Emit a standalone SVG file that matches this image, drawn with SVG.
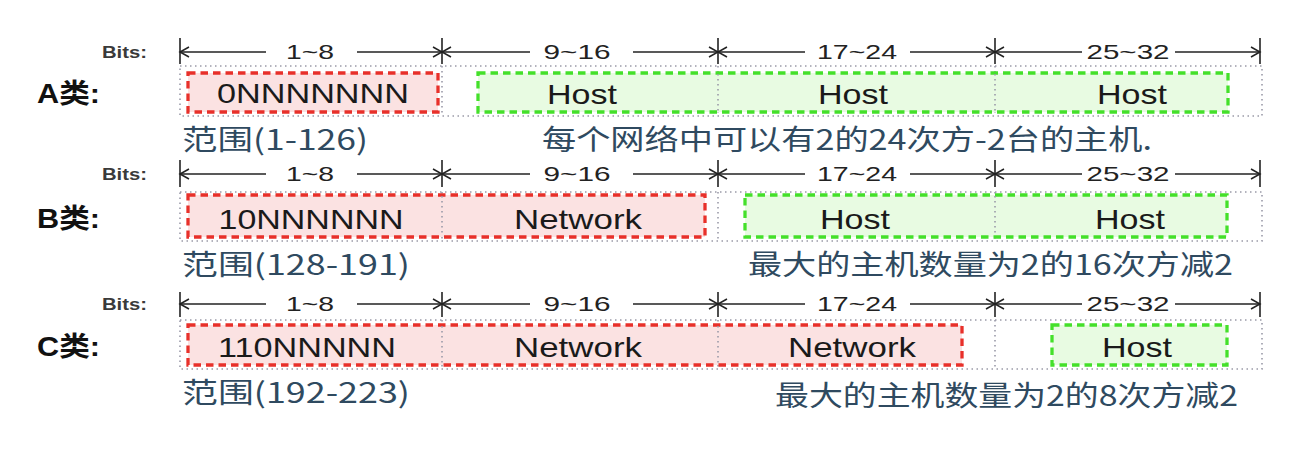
<svg xmlns="http://www.w3.org/2000/svg" width="1302" height="450" viewBox="0 0 1302 450">
<style>
.bits{font-family:"Liberation Sans","DejaVu Sans",sans-serif;font-size:16px;font-weight:bold;fill:#3a3a3a}
.cls{font-family:"Liberation Sans","Noto Sans CJK SC",sans-serif;font-size:27px;font-weight:bold;fill:#111}
.rng{font-family:"Liberation Sans","Noto Sans CJK SC",sans-serif;font-size:21px;fill:#222;text-anchor:middle}
.fld{font-family:"Liberation Sans","Noto Sans CJK SC",sans-serif;font-size:28px;fill:#1a1a1a;text-anchor:middle}
.cap{font-family:"Noto Sans CJK SC",sans-serif;font-size:28px;fill:#2f4a60}
.tick{stroke:#222;stroke-width:1.6}
.dl{stroke:#222;stroke-width:1.5}
.dl.s{marker-start:url(#ah)}
.dl.e{marker-end:url(#ah)}
.frame{fill:none;stroke:#9a9aa8;stroke-width:1.6;stroke-dasharray:1.5 3.5}
.sep{stroke:#9a9aa8;stroke-width:1.6;stroke-dasharray:1.5 3.5}
.net{fill:#fbe2e2;stroke:#e8302a;stroke-width:3.3;stroke-dasharray:7.5 5}
.host{fill:#e8fbe2;stroke:#44e02a;stroke-width:3.3;stroke-dasharray:7.5 5}
</style>
<defs>
<marker id="ah" viewBox="-10 -7 12 14" markerWidth="12" markerHeight="14" refX="0" refY="0" orient="auto-start-reverse" markerUnits="userSpaceOnUse">
<path d="M-9,-5 L0,0 L-9,5" fill="none" stroke="#222" stroke-width="1.5"/>
</marker>
</defs>
<rect width="1302" height="450" fill="#ffffff"/>

<g id="connectors">
<g id="dimA">
<line class="tick" x1="180" y1="38" x2="180" y2="64"/>
<line class="tick" x1="442" y1="38" x2="442" y2="64"/>
<line class="tick" x1="718" y1="38" x2="718" y2="64"/>
<line class="tick" x1="995" y1="38" x2="995" y2="64"/>
<line class="tick" x1="1260" y1="38" x2="1260" y2="64"/>
<line class="dl s" x1="180" y1="52" x2="266" y2="52"/>
<line class="dl e" x1="357" y1="52" x2="442" y2="52"/>
<line class="dl s" x1="442" y1="52" x2="530" y2="52"/>
<line class="dl e" x1="633" y1="52" x2="718" y2="52"/>
<line class="dl s" x1="718" y1="52" x2="805" y2="52"/>
<line class="dl e" x1="910" y1="52" x2="995" y2="52"/>
<line class="dl s" x1="995" y1="52" x2="1082" y2="52"/>
<line class="dl e" x1="1175" y1="52" x2="1260" y2="52"/>
</g>
<g id="dimB">
<line class="tick" x1="180" y1="160" x2="180" y2="187"/>
<line class="tick" x1="442" y1="160" x2="442" y2="187"/>
<line class="tick" x1="718" y1="160" x2="718" y2="187"/>
<line class="tick" x1="995" y1="160" x2="995" y2="187"/>
<line class="tick" x1="1260" y1="160" x2="1260" y2="187"/>
<line class="dl s" x1="180" y1="174" x2="266" y2="174"/>
<line class="dl e" x1="357" y1="174" x2="442" y2="174"/>
<line class="dl s" x1="442" y1="174" x2="530" y2="174"/>
<line class="dl e" x1="633" y1="174" x2="718" y2="174"/>
<line class="dl s" x1="718" y1="174" x2="805" y2="174"/>
<line class="dl e" x1="910" y1="174" x2="995" y2="174"/>
<line class="dl s" x1="995" y1="174" x2="1082" y2="174"/>
<line class="dl e" x1="1175" y1="174" x2="1260" y2="174"/>
</g>
<g id="dimC">
<line class="tick" x1="180" y1="292" x2="180" y2="317"/>
<line class="tick" x1="442" y1="292" x2="442" y2="317"/>
<line class="tick" x1="718" y1="292" x2="718" y2="317"/>
<line class="tick" x1="995" y1="292" x2="995" y2="317"/>
<line class="tick" x1="1260" y1="292" x2="1260" y2="317"/>
<line class="dl s" x1="180" y1="304" x2="266" y2="304"/>
<line class="dl e" x1="357" y1="304" x2="442" y2="304"/>
<line class="dl s" x1="442" y1="304" x2="530" y2="304"/>
<line class="dl e" x1="633" y1="304" x2="718" y2="304"/>
<line class="dl s" x1="718" y1="304" x2="805" y2="304"/>
<line class="dl e" x1="910" y1="304" x2="995" y2="304"/>
<line class="dl s" x1="995" y1="304" x2="1082" y2="304"/>
<line class="dl e" x1="1175" y1="304" x2="1260" y2="304"/>
</g>
</g>

<g id="rowA">
<text class="bits" x="102" y="58" textLength="45" lengthAdjust="spacingAndGlyphs">Bits:</text>
<text class="rng" x="310" y="59" textLength="48" lengthAdjust="spacingAndGlyphs">1~8</text>
<text class="rng" x="577" y="59" textLength="67" lengthAdjust="spacingAndGlyphs">9~16</text>
<text class="rng" x="857" y="59" textLength="80" lengthAdjust="spacingAndGlyphs">17~24</text>
<text class="rng" x="1128" y="59" textLength="83" lengthAdjust="spacingAndGlyphs">25~32</text>
<text class="cls" x="37" y="103" textLength="63" lengthAdjust="spacingAndGlyphs">A类:</text>
<rect class="frame" x="180" y="66" width="1082" height="50"/>
<line class="sep" x1="442" y1="66" x2="442" y2="116"/>
<line class="sep" x1="718" y1="66" x2="718" y2="116"/>
<line class="sep" x1="995" y1="66" x2="995" y2="116"/>
<g id="A-net">
<rect class="net" x="188" y="73" width="250" height="39"/>
<text class="fld" x="313" y="103" textLength="192" lengthAdjust="spacingAndGlyphs">0NNNNNNN</text>
</g>
<g id="A-host">
<rect class="host" x="478" y="73" width="750" height="39"/>
<line class="sep" x1="718" y1="74" x2="718" y2="112"/>
<line class="sep" x1="995" y1="74" x2="995" y2="112"/>
<text class="fld" x="582" y="104" textLength="70" lengthAdjust="spacingAndGlyphs">Host</text>
<text class="fld" x="853" y="104" textLength="70" lengthAdjust="spacingAndGlyphs">Host</text>
<text class="fld" x="1132" y="104" textLength="70" lengthAdjust="spacingAndGlyphs">Host</text>
</g>
<text class="cap" x="182" y="150" textLength="186" lengthAdjust="spacingAndGlyphs">范围(1-126)</text>
<text class="cap" x="542" y="150" textLength="610" lengthAdjust="spacingAndGlyphs">每个网络中可以有2的24次方-2台的主机.</text>
</g>

<g id="rowB">
<text class="bits" x="102" y="180" textLength="45" lengthAdjust="spacingAndGlyphs">Bits:</text>
<text class="rng" x="310" y="181" textLength="48" lengthAdjust="spacingAndGlyphs">1~8</text>
<text class="rng" x="577" y="181" textLength="67" lengthAdjust="spacingAndGlyphs">9~16</text>
<text class="rng" x="857" y="181" textLength="80" lengthAdjust="spacingAndGlyphs">17~24</text>
<text class="rng" x="1128" y="181" textLength="83" lengthAdjust="spacingAndGlyphs">25~32</text>
<text class="cls" x="37" y="228" textLength="63" lengthAdjust="spacingAndGlyphs">B类:</text>
<rect class="frame" x="180" y="192" width="1082" height="49"/>
<line class="sep" x1="442" y1="192" x2="442" y2="241"/>
<line class="sep" x1="718" y1="192" x2="718" y2="241"/>
<line class="sep" x1="995" y1="192" x2="995" y2="241"/>
<g id="B-net">
<rect class="net" x="188" y="195" width="517" height="42"/>
<line class="sep" x1="442" y1="196" x2="442" y2="236"/>
<text class="fld" x="311" y="229" textLength="185" lengthAdjust="spacingAndGlyphs">10NNNNNN</text>
<text class="fld" x="578" y="229" textLength="128" lengthAdjust="spacingAndGlyphs">Network</text>
</g>
<g id="B-host">
<rect class="host" x="745" y="195" width="482" height="42"/>
<line class="sep" x1="995" y1="196" x2="995" y2="236"/>
<text class="fld" x="855" y="229" textLength="70" lengthAdjust="spacingAndGlyphs">Host</text>
<text class="fld" x="1130" y="229" textLength="70" lengthAdjust="spacingAndGlyphs">Host</text>
</g>
<text class="cap" x="182" y="275" textLength="228" lengthAdjust="spacingAndGlyphs">范围(128-191)</text>
<text class="cap" x="748" y="275" textLength="485" lengthAdjust="spacingAndGlyphs">最大的主机数量为2的16次方减2</text>
</g>

<g id="rowC">
<text class="bits" x="102" y="310" textLength="45" lengthAdjust="spacingAndGlyphs">Bits:</text>
<text class="rng" x="310" y="311" textLength="48" lengthAdjust="spacingAndGlyphs">1~8</text>
<text class="rng" x="577" y="311" textLength="67" lengthAdjust="spacingAndGlyphs">9~16</text>
<text class="rng" x="857" y="311" textLength="80" lengthAdjust="spacingAndGlyphs">17~24</text>
<text class="rng" x="1128" y="311" textLength="83" lengthAdjust="spacingAndGlyphs">25~32</text>
<text class="cls" x="37" y="356" textLength="63" lengthAdjust="spacingAndGlyphs">C类:</text>
<rect class="frame" x="180" y="320" width="1082" height="49"/>
<line class="sep" x1="442" y1="320" x2="442" y2="369"/>
<line class="sep" x1="718" y1="320" x2="718" y2="369"/>
<line class="sep" x1="995" y1="320" x2="995" y2="369"/>
<g id="C-net">
<rect class="net" x="188" y="325" width="774" height="40"/>
<line class="sep" x1="442" y1="326" x2="442" y2="364"/>
<line class="sep" x1="718" y1="326" x2="718" y2="364"/>
<text class="fld" x="307" y="357" textLength="178" lengthAdjust="spacingAndGlyphs">110NNNNN</text>
<text class="fld" x="578" y="357" textLength="128" lengthAdjust="spacingAndGlyphs">Network</text>
<text class="fld" x="852" y="357" textLength="128" lengthAdjust="spacingAndGlyphs">Network</text>
</g>
<g id="C-host">
<rect class="host" x="1052" y="325" width="175" height="40"/>
<text class="fld" x="1137" y="357" textLength="70" lengthAdjust="spacingAndGlyphs">Host</text>
</g>
<text class="cap" x="182" y="403" textLength="228" lengthAdjust="spacingAndGlyphs">范围(192-223)</text>
<text class="cap" x="775" y="406" textLength="463" lengthAdjust="spacingAndGlyphs">最大的主机数量为2的8次方减2</text>
</g>
</svg>
